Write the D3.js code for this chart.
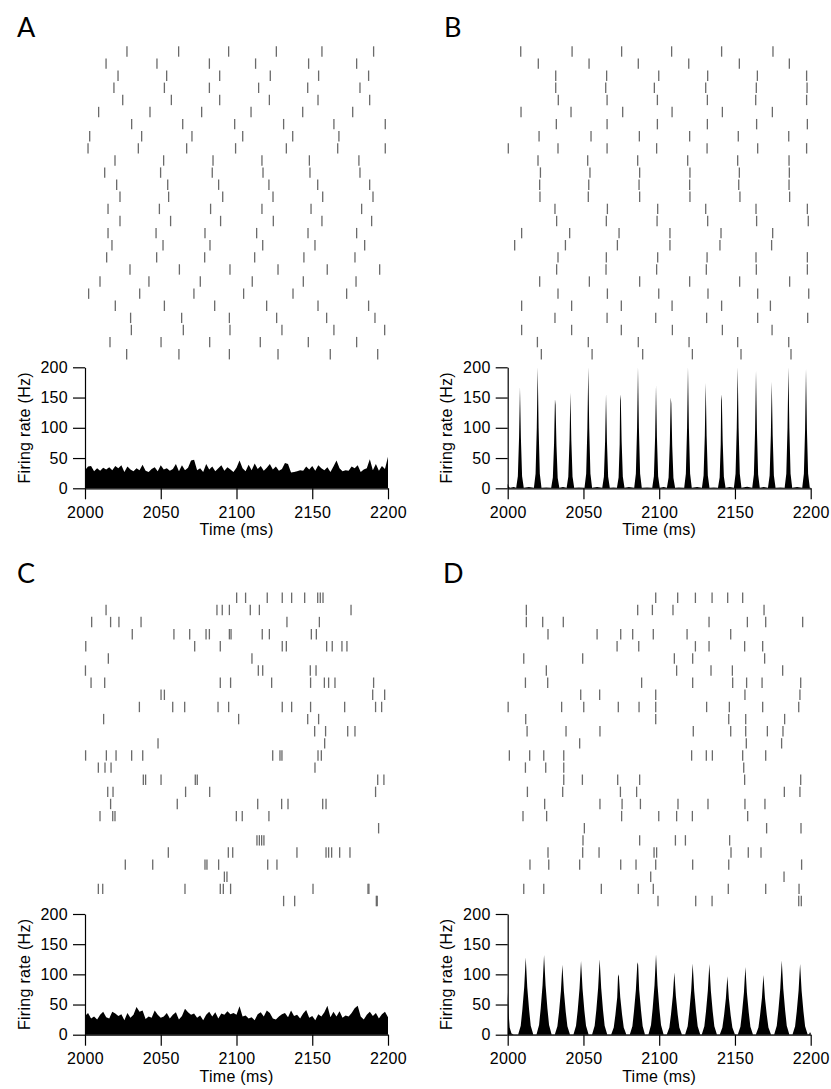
<!DOCTYPE html>
<html><head><meta charset="utf-8">
<script src="https://cdn.jsdelivr.net/npm/d3@7"></script>
<style>
body{margin:0;background:#fff}
svg{display:block}
text{font-family:"Liberation Sans",Arial,Helvetica,sans-serif}
</style>
</head><body>
<svg id="chart" width="831" height="1089"></svg>
<script>
const timeTicks = [2000, 2050, 2100, 2150, 2200];
const rateTicks = [0, 50, 100, 150, 200];
const panelLetters = ["A", "B", "C", "D"];

const rasterA = [
[2027.7,2061.8,2094.8,2126.3,2156.4,2190.5],
[2013.9,2047.5,2082.1,2112.6,2147.6,2179.3],
[2021.8,2053.9,2088.9,2122.3,2154.2,2187.2],
[2019.1,2052.4,2082.1,2114.6,2147.0,2181.5],
[2024.9,2057.0,2088.9,2121.7,2153.8,2187.9],
[2009.0,2042.9,2077.0,2109.6,2143.7,2176.7],
[2030.8,2064.5,2098.8,2131.1,2164.3,2198.2],
[2003.1,2037.4,2070.6,2104.1,2137.1,2167.6],
[2002.0,2035.2,2067.1,2099.4,2132.9,2166.8,2198.2],
[2019.8,2051.9,2084.5,2116.8,2148.1,2180.8],
[2013.0,2049.9,2084.0,2117.5,2148.5,2181.5],
[2020.9,2054.6,2088.2,2121.4,2153.6,2187.9],
[2023.1,2055.2,2090.9,2124.1,2156.9,2190.1],
[2015.2,2049.1,2082.9,2116.8,2149.2,2182.6],
[2023.1,2056.5,2089.5,2124.3,2156.4,2189.2],
[2015.2,2046.9,2079.2,2113.3,2147.2,2179.3],
[2017.8,2051.5,2082.5,2117.3,2151.8,2184.6],
[2014.3,2047.3,2079.0,2112.0,2144.5,2178.2],
[2029.7,2062.3,2095.7,2127.4,2159.9,2194.5],
[2009.9,2042.2,2076.1,2110.4,2144.1,2178.9],
[2002.4,2036.1,2071.9,2104.7,2137.3,2172.7],
[2020.0,2052.4,2085.6,2119.9,2153.8,2187.2],
[2030.1,2063.8,2095.3,2126.5,2159.5,2191.4],
[2030.6,2064.9,2095.7,2130.0,2164.3,2197.8],
[2016.5,2050.2,2082.3,2115.7,2147.4,2179.3],
[2027.5,2062.0,2095.3,2127.4,2161.9,2193.2]
];

const rasterB = [
[2008.6,2042.5,2075.2,2108.2,2141.2,2175.1],
[2020.2,2053.7,2086.2,2119.5,2152.9,2185.9],
[2031.7,2065.3,2099.7,2132.0,2164.8,2197.3],
[2031.7,2064.7,2096.8,2130.7,2164.1,2197.6],
[2033.4,2065.6,2098.8,2131.8,2163.7,2197.3],
[2008.8,2041.8,2075.9,2108.5,2141.7,2174.7],
[2032.1,2065.6,2098.8,2131.8,2164.3,2197.8],
[2020.7,2055.0,2086.9,2120.1,2152.2,2185.5],
[2000.4,2033.2,2065.6,2098.3,2131.6,2165.0,2197.3],
[2020.0,2052.8,2085.8,2118.8,2151.8,2185.7],
[2021.6,2054.3,2087.1,2120.3,2152.9,2185.9],
[2021.1,2053.5,2086.7,2120.1,2152.5,2185.7],
[2021.3,2053.2,2087.1,2120.3,2153.3,2186.1],
[2031.2,2065.8,2099.0,2130.7,2163.9,2197.8],
[2032.3,2065.1,2098.6,2132.0,2164.3,2198.4],
[2009.2,2040.9,2073.5,2107.1,2140.8,2174.9],
[2004.6,2038.1,2072.4,2107.1,2140.1,2174.2],
[2033.2,2065.1,2099.0,2131.6,2163.9,2197.8],
[2032.3,2064.9,2098.3,2131.1,2164.1,2197.8],
[2021.1,2053.9,2087.1,2120.1,2153.1,2186.1],
[2033.2,2065.8,2099.7,2132.2,2165.0,2198.7],
[2009.2,2042.2,2075.0,2108.5,2141.2,2173.4],
[2031.2,2065.6,2097.7,2131.3,2165.0,2198.0],
[2009.2,2042.2,2075.0,2108.7,2141.7,2174.5],
[2019.6,2053.2,2086.2,2119.7,2151.8,2185.5],
[2022.2,2055.7,2089.1,2121.9,2154.0,2187.0]
];

const rasterC = [
[2100.1,2106.0,2120.3,2130.2,2136.4,2145.0,2153.6,2155.3,2157.1],
[2013.9,2087.1,2090.6,2095.3,2109.1,2115.1,2175.6],
[2004.4,2016.9,2022.4,2037.0,2133.3,2154.7],
[2031.2,2058.7,2069.1,2079.9,2082.1,2095.3,2096.4,2117.0,2121.7,2149.4,2152.7],
[2000.5,2072.4,2089.3,2130.2,2132.9,2159.5,2163.2,2169.6,2172.9],
[2015.4,2110.2],
[2000.3,2114.4,2117.3,2148.7,2152.5],
[2004.0,2013.0,2089.3,2096.1,2123.2,2148.9,2158.0,2160.8,2165.0,2190.5],
[2050.2,2052.4,2189.9,2197.8],
[2035.9,2057.9,2065.8,2087.8,2094.8,2130.2,2136.4,2148.9,2171.4,2191.8,2195.8],
[2012.3,2101.4,2147.0,2154.2],
[2151.6,2158.8,2173.4,2178.2],
[2048.2,2158.2],
[2000.4,2014.1,2020.5,2030.8,2038.1,2123.9,2128.7,2130.0,2153.8,2156.0],
[2008.8,2013.2,2017.2,2151.8],
[2038.5,2040.0,2050.2,2072.8,2074.1,2193.2,2197.3],
[2015.0,2018.5,2066.4,2082.3,2191.8],
[2016.9,2060.9,2114.0,2129.8,2134.0,2156.9,2159.1],
[2009.9,2018.3,2019.8,2099.9,2103.8,2121.4],
[2193.8],
[2113.5,2115.1,2116.6,2118.1],
[2055.0,2094.6,2097.5,2139.9,2159.1,2160.8,2162.8,2168.1,2174.9],
[2026.6,2044.7,2079.2,2080.5,2088.2,2120.6,2126.7],
[2092.0,2093.7],
[2008.8,2011.7,2066.0,2089.3,2091.3,2096.1,2150.5,2186.8,2187.4],
[2131.1,2138.4,2192.3,2192.9]
];

const rasterD = [
[2097.7,2112.2,2123.9,2134.9,2145.2,2155.1],
[2012.3,2085.8,2095.5,2109.1,2169.2],
[2012.3,2023.1,2036.7,2132.9,2158.2,2170.3,2194.7],
[2026.6,2059.0,2074.6,2082.5,2096.1,2118.4,2147.2],
[2072.2,2086.5,2123.9,2132.9,2156.4,2168.3],
[2010.6,2049.5,2110.0,2122.1,2169.6],
[2025.5,2111.5,2134.2,2148.3,2181.5],
[2011.7,2026.4,2088.4,2122.1,2148.5,2157.7,2167.9,2193.4],
[2048.2,2060.7,2097.7,2156.6,2192.9],
[2000.3,2035.6,2050.2,2073.0,2086.7,2097.7,2131.3,2146.3,2168.3,2192.1],
[2011.9,2097.7,2145.9,2157.1,2182.8],
[2012.8,2038.5,2060.9,2122.5,2147.2,2157.1,2171.4,2181.7],
[2047.5,2157.5,2180.8],
[2001.1,2014.5,2023.8,2037.0,2121.4,2131.1,2135.1,2155.1,2170.3],
[2011.7,2025.1,2037.0,2155.8],
[2037.0,2049.3,2072.6,2087.1,2156.4,2193.4],
[2013.0,2036.3,2074.4,2085.1,2182.6,2192.9],
[2024.4,2060.9,2075.5,2087.6,2112.4,2132.2,2156.6,2169.8],
[2010.1,2025.7,2075.2,2099.7,2111.5,2121.9,2158.4],
[2050.6,2170.9,2193.6],
[2049.7,2087.1,2110.7,2117.3,2146.5],
[2026.6,2049.5,2060.3,2096.6,2098.3,2147.4,2158.8,2167.2],
[2014.7,2027.1,2047.5,2074.6,2084.7,2097.7,2122.1,2145.9,2194.0],
[2094.4,2182.4],
[2010.6,2023.8,2061.8,2086.2,2096.1,2145.6,2170.3,2192.3],
[2099.2,2124.1,2134.9,2192.1,2193.8]
];

// Firing rates, panels A and C: one value per 2 ms bin, 2000..2200 ms
const rateBinStart = 2000, rateBinWidth = 2;
const rateA = [30,36,37,28,33,29,34,31,35,30,37,33,38,27,36,31,28,33,30,39,
29,27,32,35,28,38,31,33,29,32,40,28,38,30,34,46,47,30,33,27,
40,31,36,28,33,38,29,35,31,27,34,46,33,28,39,30,41,32,37,29,
34,40,31,36,29,32,42,40,26,27,28,30,29,36,31,37,29,38,33,30,
35,27,36,46,33,28,30,29,36,33,38,27,31,33,48,30,40,29,37,32,52];
const rateC = [31,36,27,30,25,33,38,29,27,38,35,31,34,24,36,28,33,46,38,40,
26,30,28,40,33,28,30,36,27,33,37,25,31,43,37,33,35,28,32,24,
33,38,30,37,27,35,33,39,34,36,33,47,30,32,27,29,24,34,37,30,
40,36,27,25,30,34,36,29,40,31,33,27,35,41,28,31,24,34,30,37,
48,29,38,30,39,28,32,30,36,44,48,30,25,33,38,31,36,27,34,38,29];

// Firing rates, panels B and D: [time (ms), rate (Hz)] read along each peak
const rateB = [
[2000,7],[2000.8,2],[2001.6,1],[2004,2],
[2005.6,1],[2006.7,20],[2007.5,84],[2008.1,167],[2008.7,84],[2009.5,20],[2010.6,1],[2014,2],
[2017.3,1],[2018.4,24],[2019.2,100],[2019.8,200],[2020.4,100],[2021.2,24],[2022.3,1],[2025.5,1.5],
[2028.7,1],[2029.8,18],[2030.6,74],[2031.2,147],[2031.6,138],[2032.2,70],[2033.0,17],[2034.1,1],[2036.5,2],
[2038.9,1],[2040.0,19],[2040.8,79],[2041.4,158],[2042.0,79],[2042.8,19],[2043.9,1],[2047,1.5],
[2050.7,1],[2051.8,24],[2052.6,100],[2053.2,200],[2053.8,100],[2054.6,24],[2055.7,1],[2059,2],
[2062.4,1],[2063.5,19],[2064.3,78],[2064.9,156],[2065.5,78],[2066.3,19],[2067.4,1],[2069.8,1.5],
[2072.1,1],[2073.2,18],[2073.9,72],[2074.2,145],[2074.6,155],[2075.2,78],[2076.0,19],[2077.1,1],[2080,2],
[2083.5,1],[2084.6,24],[2085.4,100],[2086.0,200],[2086.6,100],[2087.4,24],[2088.5,1],[2092,1.5],
[2095.4,1],[2096.5,20],[2097.3,85],[2097.9,170],[2098.5,85],[2099.3,20],[2100.4,1],[2103,2],
[2105.1,1],[2106.2,18],[2107.0,75],[2107.6,150],[2108.0,140],[2108.6,70],[2109.4,17],[2110.5,1],[2113,1.5],
[2116.5,1],[2117.6,24],[2118.4,100],[2119.0,200],[2119.6,100],[2120.4,24],[2121.5,1],[2125,2],
[2128.2,1],[2129.3,21],[2130.1,87],[2130.7,174],[2131.3,87],[2132.1,21],[2133.2,1],[2136,1.5],
[2138.8,1],[2139.9,18],[2140.6,72],[2140.9,145],[2141.3,155],[2141.9,78],[2142.7,19],[2143.8,1],[2146.5,2],
[2149.3,1],[2150.4,24],[2151.2,100],[2151.8,200],[2152.4,100],[2153.2,24],[2154.3,1],[2158,2.5],
[2161.4,1],[2162.5,23],[2163.3,97],[2163.9,194],[2164.5,97],[2165.3,23],[2166.4,1],[2169,2],
[2171.8,1],[2172.9,21],[2173.7,88],[2174.3,176],[2174.9,88],[2175.7,21],[2176.8,1],[2180,1.5],
[2182.8,1],[2183.9,24],[2184.7,100],[2185.3,200],[2185.9,100],[2186.7,24],[2187.8,1],[2191,2],
[2194.4,1],[2195.5,24],[2196.3,98],[2196.9,197],[2197.5,98],[2198.3,24],[2199.4,1],[2200,1]
];
const rateD = [
[2000,70],[2000.6,35],[2001.3,12],[2002.5,2],[2004,0.5],
[2006.9,0.5],[2008.6,15],[2009.7,42],[2010.9,79],[2011.9,128],[2012.9,79],[2014.1,42],[2015.2,15],[2016.9,0.5],
[2019.0,0.5],[2020.7,16],[2021.8,44],[2023.0,82],[2024.0,132],[2025.0,82],[2026.2,44],[2027.3,16],[2029.0,0.5],
[2031.1,0.5],[2032.8,14],[2033.9,38],[2035.1,72],[2036.1,116],[2037.1,72],[2038.3,38],[2039.4,14],[2041.1,0.5],
[2043.4,0.5],[2045.1,15],[2046.2,40],[2047.4,76],[2048.4,122],[2049.4,76],[2050.6,40],[2051.7,15],[2053.4,0.5],
[2055.7,0.5],[2057.4,15],[2058.5,41],[2059.7,78],[2060.7,125],[2061.7,78],[2062.9,41],[2064.0,15],[2065.7,0.5],
[2068.3,0.5],[2070.0,12],[2071.1,33],[2072.3,62],[2072.8,96],[2073.3,100],[2074.3,62],[2075.5,33],[2076.6,12],[2078.3,0.5],
[2080.6,0.5],[2082.3,14],[2083.4,40],[2084.6,74],[2085.6,120],[2086.1,116],[2086.8,74],[2088.0,40],[2089.1,14],[2090.6,0.5],
[2092.9,0.5],[2094.6,16],[2095.7,44],[2096.9,82],[2097.9,133],[2098.9,82],[2100.1,44],[2101.2,16],[2102.9,0.5],
[2105.0,0.5],[2106.7,12],[2107.8,34],[2109.0,64],[2110.0,103],[2111.0,64],[2112.2,34],[2113.3,12],[2115.0,0.5],
[2117.1,0.5],[2118.8,14],[2119.9,39],[2121.1,73],[2122.1,118],[2123.1,73],[2124.3,39],[2125.4,14],[2127.1,0.5],
[2128.1,0.5],[2129.8,14],[2130.9,39],[2132.1,73],[2133.1,117],[2134.1,73],[2135.3,39],[2136.4,14],[2138.1,0.5],
[2140.0,0.5],[2141.7,12],[2142.8,32],[2144.0,60],[2145.0,97],[2146.0,60],[2147.2,32],[2148.3,12],[2150.0,0.5],
[2151.9,0.5],[2153.6,13],[2154.7,37],[2155.9,69],[2156.9,112],[2157.9,69],[2159.1,37],[2160.2,13],[2161.9,0.5],
[2163.8,0.5],[2165.5,12],[2166.6,33],[2167.8,61],[2168.8,99],[2169.8,61],[2171.0,33],[2172.1,12],[2173.8,0.5],
[2175.9,0.5],[2177.6,15],[2178.7,41],[2179.9,76],[2180.9,123],[2181.9,76],[2183.1,41],[2184.2,15],[2185.9,0.5],
[2188.0,0.5],[2189.7,14],[2190.8,39],[2192.0,73],[2193.0,117],[2194.0,73],[2195.2,39],[2196.3,14],[2198.0,0.5],
[2199,1],[2199.5,4],[2200,3]
];

// ---------- layout ----------
const layouts = [
  {x0: 85,    x1: 388,   row0: 51.5,  row1: 354.2, rTop: 367.3, rBot: 488.3, lx: 17,  ly: 37},
  {x0: 507.7, x1: 810.7, row0: 51.5,  row1: 354.2, rTop: 367.3, rBot: 488.3, lx: 444, ly: 37},
  {x0: 85,    x1: 388,   row0: 597.8, row1: 901.0, rTop: 914.0, rBot: 1034.7, lx: 17, ly: 583},
  {x0: 507.7, x1: 810.7, row0: 597.8, row1: 901.0, rTop: 914.0, rBot: 1034.7, lx: 443, ly: 583}
];
const toPairs = arr => arr.map((v, i) => [rateBinStart + i * rateBinWidth, v]);
const rasters = [rasterA, rasterB, rasterC, rasterD];
const rates = [toPairs(rateA), rateB, toPairs(rateC), rateD];

const svg = d3.select("#chart");
const FONT = '"Liberation Sans",Arial,Helvetica,sans-serif';

layouts.forEach((L, k) => {
  const g = svg.append("g");
  const x = d3.scaleLinear().domain([2000, 2200]).range([L.x0, L.x1]);
  const yRow = d3.scaleLinear().domain([0, rasters[k].length - 1]).range([L.row0, L.row1]);
  const yRate = d3.scaleLinear().domain([0, 200]).range([L.rBot, L.rTop]);

  // raster
  const spikes = [];
  rasters[k].forEach((row, i) => row.forEach(t => spikes.push({i, t})));
  g.append("g").selectAll("line").data(spikes).join("line")
    .attr("x1", d => x(d.t)).attr("x2", d => x(d.t))
    .attr("y1", d => yRow(d.i) - 5.2).attr("y2", d => yRow(d.i) + 5.2)
    .attr("stroke", "#6a6a6a").attr("stroke-width", 1.3);

  // firing rate
  const area = d3.area().x(d => x(d[0])).y0(yRate(0)).y1(d => yRate(d[1]));
  g.append("path").datum(rates[k]).attr("d", area).attr("fill", "#000");

  // axes
  const ay = g.append("g").attr("transform", `translate(${L.x0},0)`)
    .call(d3.axisLeft(yRate).tickValues(rateTicks).tickSize(12).tickSizeOuter(0).tickPadding(5));
  const ax = g.append("g").attr("transform", `translate(0,${L.rBot})`)
    .call(d3.axisBottom(x).tickValues(timeTicks).tickSize(11).tickSizeOuter(0).tickPadding(7).tickFormat(d3.format("d")));
  [ay, ax].forEach(a => {
    a.attr("font-family", FONT).attr("font-size", 16);
    a.selectAll("path,line").attr("stroke", "#000").attr("stroke-width", 1.2);
    a.selectAll("text").attr("fill", "#000").style("letter-spacing", "0.3px");
  });

  g.append("text").attr("x", (L.x0 + L.x1) / 2).attr("y", L.rBot + 47)
    .attr("text-anchor", "middle").attr("font-size", 16).style("letter-spacing", "0.3px")
    .text("Time (ms)");
  g.append("text")
    .attr("transform", `translate(${L.x0 - 55.5},${(L.rTop + L.rBot) / 2}) rotate(-90)`)
    .attr("text-anchor", "middle").attr("font-size", 16).style("letter-spacing", "0.3px")
    .text("Firing rate (Hz)");

  svg.append("text").attr("x", L.lx).attr("y", L.ly)
    .attr("font-size", 27).style("font-family", "Lato, 'Open Sans', sans-serif")
    .text(panelLetters[k]);
});
</script>
</body></html>
